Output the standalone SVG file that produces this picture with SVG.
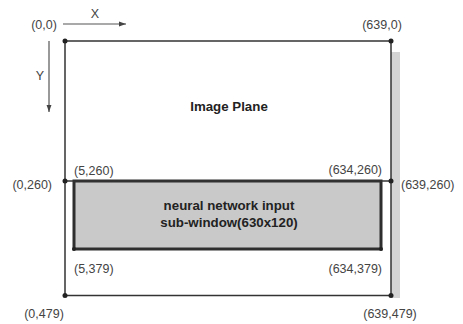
<svg xmlns="http://www.w3.org/2000/svg" width="463" height="324" viewBox="0 0 463 324">
<style>
text{font-family:"Liberation Sans",Arial,sans-serif;font-size:12.5px;fill:#444}
.b{font-weight:bold;fill:#222;font-size:13.3px}
.ln{stroke:#333;stroke-width:1.5;fill:none}
.ax{stroke:#555;stroke-width:1.2;fill:none}
.dot{fill:#222}
</style>
<defs>
<marker id="ah" viewBox="0 0 10 10" refX="10" refY="5" markerWidth="7" markerHeight="7" orient="auto" markerUnits="userSpaceOnUse">
<path d="M0,1.5 L10,5 L0,8.5 z" fill="#444"/>
</marker>
</defs>
<rect width="463" height="324" fill="#fff"/>
<g id="shadow"><rect x="391" y="52" width="9" height="246" fill="#d4d4d4"/></g>
<g id="image-plane">
<rect x="65" y="41" width="326" height="254.5" class="ln"/>
<text x="229" y="111" text-anchor="middle" class="b">Image Plane</text>
</g>
<g id="subwindow">
<rect x="74" y="181" width="307" height="68" fill="#c9c9c9" stroke="#2e2e2e" stroke-width="3"/>
<text x="229" y="210" text-anchor="middle" class="b">neural network input</text>
<text x="229" y="227" text-anchor="middle" class="b">sub-window(630x120)</text>
</g>
<g id="connectors">
<line x1="65" y1="181" x2="391" y2="181" class="ln"/>
<line x1="63" y1="24" x2="126" y2="24" class="ax" marker-end="url(#ah)"/>
<line x1="49" y1="41" x2="49" y2="112" class="ax" marker-end="url(#ah)"/>
</g>
<g id="dots">
<circle cx="65" cy="41" r="2.5" class="dot"/>
<circle cx="391" cy="41" r="2.5" class="dot"/>
<circle cx="65" cy="181" r="2.5" class="dot"/>
<circle cx="391" cy="181" r="2.5" class="dot"/>
<circle cx="74" cy="249" r="2" class="dot"/>
<circle cx="381" cy="249" r="2" class="dot"/>
<circle cx="65" cy="295.5" r="2.5" class="dot"/>
<circle cx="391" cy="295.5" r="2.5" class="dot"/>
</g>
<g id="labels">
<text x="95" y="18" text-anchor="middle">X</text>
<text x="40" y="80" text-anchor="middle">Y</text>
<text x="44" y="29" text-anchor="middle">(0,0)</text>
<text x="382" y="29" text-anchor="middle">(639,0)</text>
<text x="52" y="189" text-anchor="end">(0,260)</text>
<text x="74" y="175">(5,260)</text>
<text x="382" y="174" text-anchor="end">(634,260)</text>
<text x="401" y="189">(639,260)</text>
<text x="74" y="273">(5,379)</text>
<text x="382" y="273" text-anchor="end">(634,379)</text>
<text x="44" y="318" text-anchor="middle">(0,479)</text>
<text x="390" y="318" text-anchor="middle">(639,479)</text>
</g>
</svg>
